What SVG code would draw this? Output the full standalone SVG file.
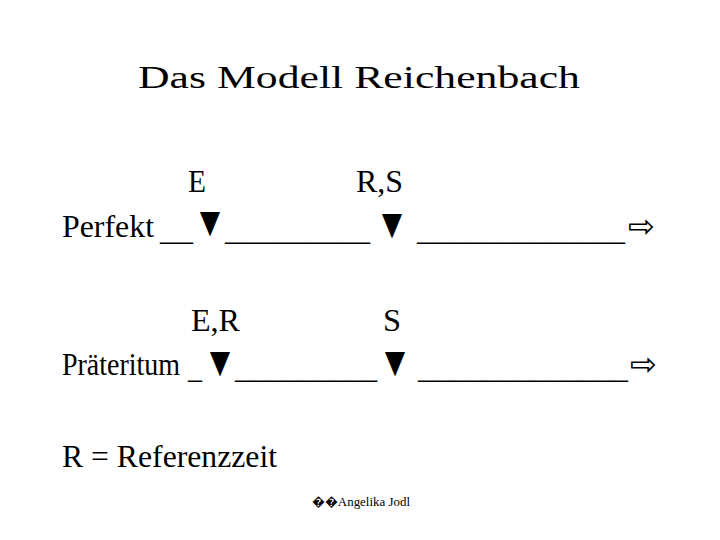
<svg xmlns="http://www.w3.org/2000/svg" width="720" height="540" viewBox="0 0 720 540">
<style>
text{font-family:"Liberation Serif","Times New Roman",serif;fill:#000}
.m{font-size:32px}
.tri{font-size:42px}
.arr{font-family:"DejaVu Sans",sans-serif;font-size:32px}
.ft{font-size:13px}
</style>
<rect width="720" height="540" fill="#fff"/>
<g id="title"><text x="138" y="88" font-size="31" textLength="442" lengthAdjust="spacingAndGlyphs">Das Modell Reichenbach</text></g>
<g id="perfekt">
<text class="m" x="188" y="192" textLength="18" lengthAdjust="spacingAndGlyphs">E</text>
<text class="m" x="356" y="192" textLength="47" lengthAdjust="spacingAndGlyphs">R,S</text>
<text class="m" x="62" y="237" textLength="92" lengthAdjust="spacingAndGlyphs">Perfekt</text>
<text class="m" x="160" y="240" textLength="33" lengthAdjust="spacingAndGlyphs">__</text>
<text class="tri" x="193" y="236" textLength="34" lengthAdjust="spacingAndGlyphs">▼</text>
<text class="m" x="225" y="240" textLength="145" lengthAdjust="spacingAndGlyphs">_________</text>
<text class="tri" x="375" y="238" textLength="34" lengthAdjust="spacingAndGlyphs">▼</text>
<text class="m" x="417" y="240" textLength="208" lengthAdjust="spacingAndGlyphs">_____________</text>
<text class="arr" x="628" y="237">⇨</text>
</g>
<g id="praeteritum">
<text class="m" x="191" y="331" textLength="49" lengthAdjust="spacingAndGlyphs">E,R</text>
<text class="m" x="383" y="331" textLength="18" lengthAdjust="spacingAndGlyphs">S</text>
<text class="m" x="62" y="375" textLength="118" lengthAdjust="spacingAndGlyphs">Präteritum</text>
<text class="m" x="188" y="378" textLength="14" lengthAdjust="spacingAndGlyphs">_</text>
<text class="tri" x="203" y="376" textLength="34" lengthAdjust="spacingAndGlyphs">▼</text>
<text class="m" x="235" y="378" textLength="142" lengthAdjust="spacingAndGlyphs">_________</text>
<text class="tri" x="378" y="376" textLength="34" lengthAdjust="spacingAndGlyphs">▼</text>
<text class="m" x="418" y="378" textLength="210" lengthAdjust="spacingAndGlyphs">_____________</text>
<text class="arr" x="630" y="375">⇨</text>
</g>
<g id="legend"><text class="m" x="62" y="467" textLength="215" lengthAdjust="spacingAndGlyphs">R = Referenzzeit</text></g>
<g id="footer"><text class="ft" x="312" y="506" textLength="98" lengthAdjust="spacingAndGlyphs">��Angelika Jodl</text></g>
</svg>
